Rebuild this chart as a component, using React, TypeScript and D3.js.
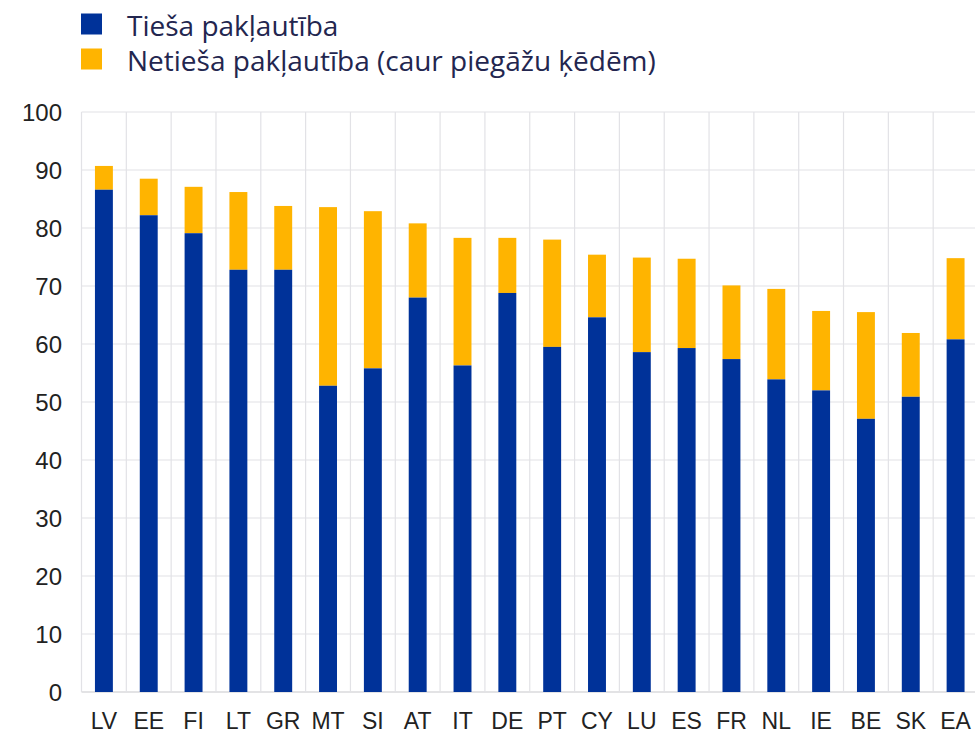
import * as d3 from "d3";
import { useEffect, useRef } from "react";

const countries = ["LV", "EE", "FI", "LT", "GR", "MT", "SI", "AT", "IT", "DE", "PT", "CY", "LU", "ES", "FR", "NL", "IE", "BE", "SK", "EA"];
// direct exposure (blue)
const direct = [86.6, 82.2, 79.1, 72.8, 72.8, 52.8, 55.8, 68.0, 56.3, 68.8, 59.5, 64.6, 58.6, 59.3, 57.4, 53.9, 52.0, 47.1, 50.9, 60.8];
// total exposure (top of yellow)
const total = [90.7, 88.5, 87.1, 86.2, 83.8, 83.6, 82.9, 80.8, 78.3, 78.3, 78.0, 75.4, 74.9, 74.7, 70.1, 69.5, 65.7, 65.5, 61.9, 74.8];
const yTicks = [0, 10, 20, 30, 40, 50, 60, 70, 80, 90, 100];
const seriesNames = ["Tieša pakļautība", "Netieša pakļautība (caur piegāžu ķēdēm)"];
const seriesColors = ["#003299", "#FFB400"];

export default function App() {
    const svgRef = useRef<SVGSVGElement>(null);
    const width = 975;
    const height = 735;

    useEffect(() => {
        const svg = d3.select(svgRef.current);
        svg.selectAll("*").remove();

        const x = d3.scaleBand<string>()
            .domain(countries)
            .range([81.5, 978])
            .paddingInner(0.6)
            .paddingOuter(0.3);
        const y = d3.scaleLinear().domain([0, 100]).range([692, 112]);
        const step = x.step();

        const grid = svg.append("g");
        // horizontal gridlines
        grid.selectAll("line.h")
            .data(yTicks)
            .join("line")
            .attr("class", "h")
            .attr("x1", 81.5)
            .attr("x2", width)
            .attr("y1", d => y(d))
            .attr("y2", d => y(d))
            .attr("stroke", d => d === 0 ? "#c8c8cc" : "#e2e2e6")
            .attr("stroke-width", 1.2);
        // vertical gridlines at category boundaries
        grid.selectAll("line.v")
            .data(countries)
            .join("line")
            .attr("class", "v")
            .attr("x1", d => (x(d) as number) - step * 0.3)
            .attr("x2", d => (x(d) as number) - step * 0.3)
            .attr("y1", y(100))
            .attr("y2", y(0))
            .attr("stroke", "#e2e2e6")
            .attr("stroke-width", 1.2);

        const rows = countries.map((c, i) => ({ c, direct: direct[i], total: total[i] }));

        const bars = svg.append("g");
        bars.selectAll("rect.ind")
            .data(rows)
            .join("rect")
            .attr("class", "ind")
            .attr("x", d => x(d.c) as number)
            .attr("width", x.bandwidth())
            .attr("y", d => y(d.total))
            .attr("height", d => y(d.direct) - y(d.total))
            .attr("fill", seriesColors[1]);
        bars.selectAll("rect.dir")
            .data(rows)
            .join("rect")
            .attr("class", "dir")
            .attr("x", d => x(d.c) as number)
            .attr("width", x.bandwidth())
            .attr("y", d => y(d.direct))
            .attr("height", d => y(0) - y(d.direct))
            .attr("fill", seriesColors[0]);

        // y axis labels
        svg.append("g")
            .selectAll("text")
            .data(yTicks)
            .join("text")
            .attr("x", 62)
            .attr("y", d => y(d))
            .attr("dy", "0.36em")
            .attr("text-anchor", "end")
            .attr("font-family", "Liberation Sans, Arial, sans-serif")
            .attr("font-size", 24)
            .attr("fill", "#222")
            .text(d => d);

        // x axis labels
        svg.append("g")
            .selectAll("text")
            .data(countries)
            .join("text")
            .attr("x", d => (x(d) as number) + x.bandwidth() / 2)
            .attr("y", 729)
            .attr("text-anchor", "middle")
            .attr("font-family", "Liberation Sans, Arial, sans-serif")
            .attr("font-size", 23)
            .attr("fill", "#222")
            .text(d => d);

        // legend
        const legend = svg.append("g");
        legend.selectAll("rect")
            .data(seriesNames)
            .join("rect")
            .attr("x", 81)
            .attr("y", (d, i) => 13.5 + i * 35)
            .attr("width", 21)
            .attr("height", 21)
            .attr("fill", (d, i) => seriesColors[i]);
        legend.selectAll("text")
            .data(seriesNames)
            .join("text")
            .attr("x", 127)
            .attr("y", (d, i) => 35.5 + i * 35)
            .attr("font-family", "Open Sans, Noto Sans, sans-serif")
            .attr("font-size", 28)
            .attr("fill", "#23264f")
            .text(d => d);
    }, []);

    return (
        <svg ref={svgRef} width={width} height={height}
            style={{ position: "absolute", left: 0, top: 0, background: "#fff" }} />
    );
}
